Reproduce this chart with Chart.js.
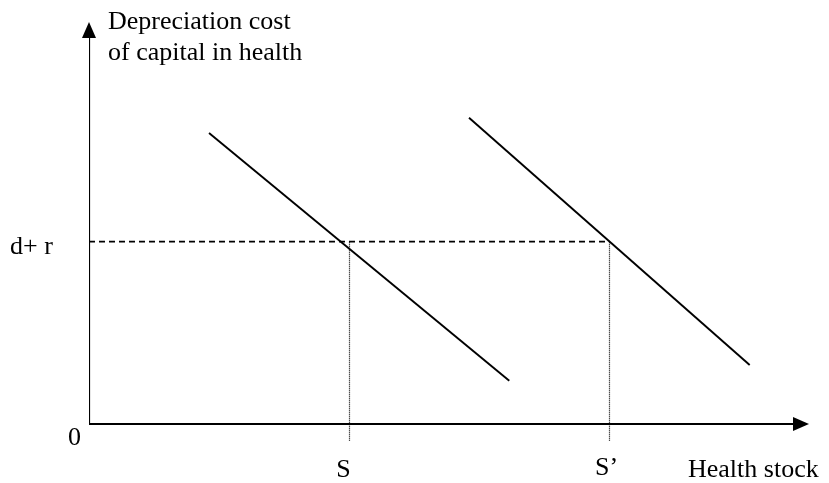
<!DOCTYPE html>
<html>
<head>
<meta charset="utf-8">
<script src="https://cdn.jsdelivr.net/npm/chart.js@4.4.1/dist/chart.umd.min.js"></script>
<style>
  html, body { margin: 0; padding: 0; background: #fff; }
  #wrap { width: 829px; height: 483px; }
</style>
</head>
<body>
<div id="wrap"><canvas id="depChart"></canvas></div>
<script>
// datos del diagrama (unidades arbitrarias)
const curveOneX = [1.667, 5.837];
const curveOneY = [7.24, 1.077];
const curveTwoX = [5.278, 9.176];
const curveTwoY = [7.62, 1.468];
const rateLevel = 4.535;          // d + r
const stockS = 3.618;             // S
const stockS2 = 7.229;            // S'
const axisEndX = 10;
const axisEndY = 10;
const tickDrop = -0.435;          // hasta donde bajan las punteadas

const yAxisLabel = ['Depreciation cost', 'of capital in health'];
const xAxisLabel = 'Health stock';
const rateLabel = 'd+ r';
const originLabel = '0';
const stockLabels = ['S', 'S\u2019'];

const toPoints = (xs, ys) => xs.map((x, i) => ({ x: x, y: ys[i] }));

// Plugin para flechas y textos
const annotations = {
  id: 'annotations',
  afterDatasetsDraw(chart) {
    const { ctx, scales: { x, y } } = chart;
    const px = v => x.getPixelForValue(v);
    const py = v => y.getPixelForValue(v);

    ctx.save();
    ctx.fillStyle = '#000';

    // flecha eje Y
    const yx = px(0), yt = py(axisEndY);
    ctx.beginPath();
    ctx.moveTo(yx, yt);
    ctx.lineTo(yx - 7, yt + 16);
    ctx.lineTo(yx + 7, yt + 16);
    ctx.closePath();
    ctx.fill();

    // flecha eje X
    const xr = px(axisEndX), xy = py(0);
    ctx.beginPath();
    ctx.moveTo(xr, xy);
    ctx.lineTo(xr - 16, xy - 7);
    ctx.lineTo(xr - 16, xy + 7);
    ctx.closePath();
    ctx.fill();

    // textos
    ctx.font = '26px "Liberation Serif", "Times New Roman", serif';
    ctx.textBaseline = 'alphabetic';
    ctx.textAlign = 'left';
    ctx.fillText(yAxisLabel[0], yx + 19, 29);
    ctx.fillText(yAxisLabel[1], yx + 19, 60);
    ctx.fillText(rateLabel, 10, py(rateLevel) + 12);
    ctx.fillText(originLabel, yx - 21, xy + 21);
    ctx.fillText(xAxisLabel, xr - 121, xy + 53);
    ctx.textAlign = 'center';
    ctx.fillText(stockLabels[0], px(stockS) - 6, xy + 53);
    ctx.fillText(stockLabels[1], px(stockS2) - 3, xy + 51);

    ctx.restore();
  }
};

new Chart(document.getElementById('depChart').getContext('2d'), {
  type: 'scatter',
  data: {
    datasets: [
      { data: toPoints([0, 0], [0, axisEndY - 0.3]), borderWidth: 2.2 },
      { data: toPoints([0, axisEndX - 0.15], [0, 0]), borderWidth: 2.2 },
      { data: toPoints(curveOneX, curveOneY), borderWidth: 1.9 },
      { data: toPoints(curveTwoX, curveTwoY), borderWidth: 1.9 },
      { data: toPoints([0, stockS2], [rateLevel, rateLevel]), borderWidth: 1.8, borderDash: [6, 4] },
      { data: toPoints([stockS, stockS], [rateLevel, tickDrop]), borderWidth: 1.2, borderDash: [1, 1] },
      { data: toPoints([stockS2, stockS2], [rateLevel, tickDrop]), borderWidth: 1.2, borderDash: [1, 1] }
    ].map(ds => Object.assign({
      showLine: true,
      borderColor: '#000',
      pointRadius: 0,
      pointHoverRadius: 0,
      fill: false
    }, ds))
  },
  options: {
    responsive: true,
    maintainAspectRatio: false,
    animation: false,
    layout: { padding: { left: 89, right: 20, top: 22, bottom: 18.8 } },
    plugins: {
      legend: { display: false },
      tooltip: { enabled: false }
    },
    scales: {
      x: { type: 'linear', min: 0, max: axisEndX, display: false },
      y: { type: 'linear', min: -1, max: axisEndY, display: false }
    }
  },
  plugins: [annotations]
});
</script>
</body>
</html>
